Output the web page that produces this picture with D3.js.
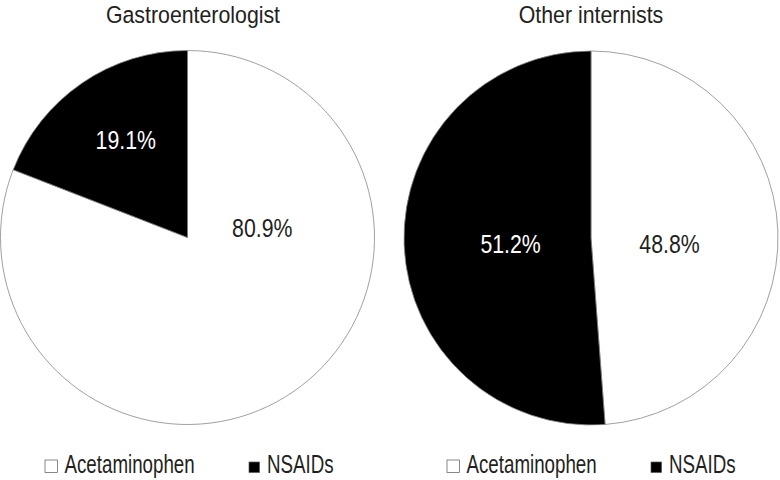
<!DOCTYPE html>
<html lang="en">
<head>
<meta charset="UTF-8">
<title>Pie charts</title>
<script src="https://d3js.org/d3.v7.min.js"></script>
<style>
  body { margin: 0; background: #fff; }
  svg { font-family: "Liberation Sans", Arial, sans-serif; }
</style>
</head>
<body>
<div id="chart"></div>
<script>
// data
const groups = ["Gastroenterologist", "Other internists"];
const drugs = ["Acetaminophen", "NSAIDs"];
const gastroValues = [80.9, 19.1];
const internistValues = [48.8, 51.2];
const allValues = [gastroValues, internistValues];

const width = 780, height = 480;
const color = d3.scaleOrdinal().domain(drugs).range(["#ffffff", "#000000"]);

const svg = d3.select("#chart").append("svg")
    .attr("width", width)
    .attr("height", height);

// layout (condensed look is faked with a horizontal squeeze)
const centers = [{ x: 187.5, y: 237.5, r: 187 }, { x: 591, y: 238, r: 187 }];
const titleX = [193, 591];
const legendX = [45, 447];
// label spots as fractions of the radius, per pie, per slice
const labelSpots = [[[0.40, -0.05], [-0.33, -0.52]], [[0.42, 0.03], [-0.43, 0.03]]];

const pie = d3.pie().sort(null).value(d => d.value);

function squeezedText(parent, x, y, size, sx, txt, fill, anchor) {
    return parent.append("g")
        .attr("transform", `translate(${x},${y}) scale(${sx},1)`)
        .append("text")
        .attr("text-anchor", anchor || "start")
        .attr("font-size", size)
        .attr("fill", fill)
        .text(txt);
}

groups.forEach((g, i) => {
    const c = centers[i];
    const data = drugs.map((d, j) => ({ drug: d, value: allValues[i][j] }));
    const arc = d3.arc().innerRadius(0).outerRadius(c.r);

    const gp = svg.append("g").attr("transform", `translate(${c.x},${c.y})`);

    gp.selectAll("path")
        .data(pie(data))
        .enter().append("path")
        .attr("d", arc)
        .attr("fill", d => color(d.data.drug))
        .attr("stroke", "#888")
        .attr("stroke-width", 0.8);

    pie(data).forEach((d, j) => {
        const p = labelSpots[i][j];
        squeezedText(gp, p[0] * c.r, p[1] * c.r + 9, 26, 0.82,
            d.data.value.toFixed(1) + "%",
            d.data.drug === "NSAIDs" ? "#fff" : "#231f20", "middle");
    });

    // title
    squeezedText(svg, titleX[i], 22.5, 24.5, 0.87, g, "#231f20", "middle");

    // legend
    const offsets = [0, 204];
    drugs.forEach((d, j) => {
        const sq = j === 0 ? 12.5 : 10.5;
        svg.append("rect")
            .attr("x", legendX[i] + offsets[j])
            .attr("y", 472.5 - sq)
            .attr("width", sq)
            .attr("height", sq)
            .attr("fill", color(d))
            .attr("stroke", "#555")
            .attr("stroke-width", 0.7);
        squeezedText(svg, legendX[i] + offsets[j] + (j === 0 ? 19.5 : 18), 472.5,
            25, 0.75, d, "#231f20");
    });
});
</script>
</body>
</html>
